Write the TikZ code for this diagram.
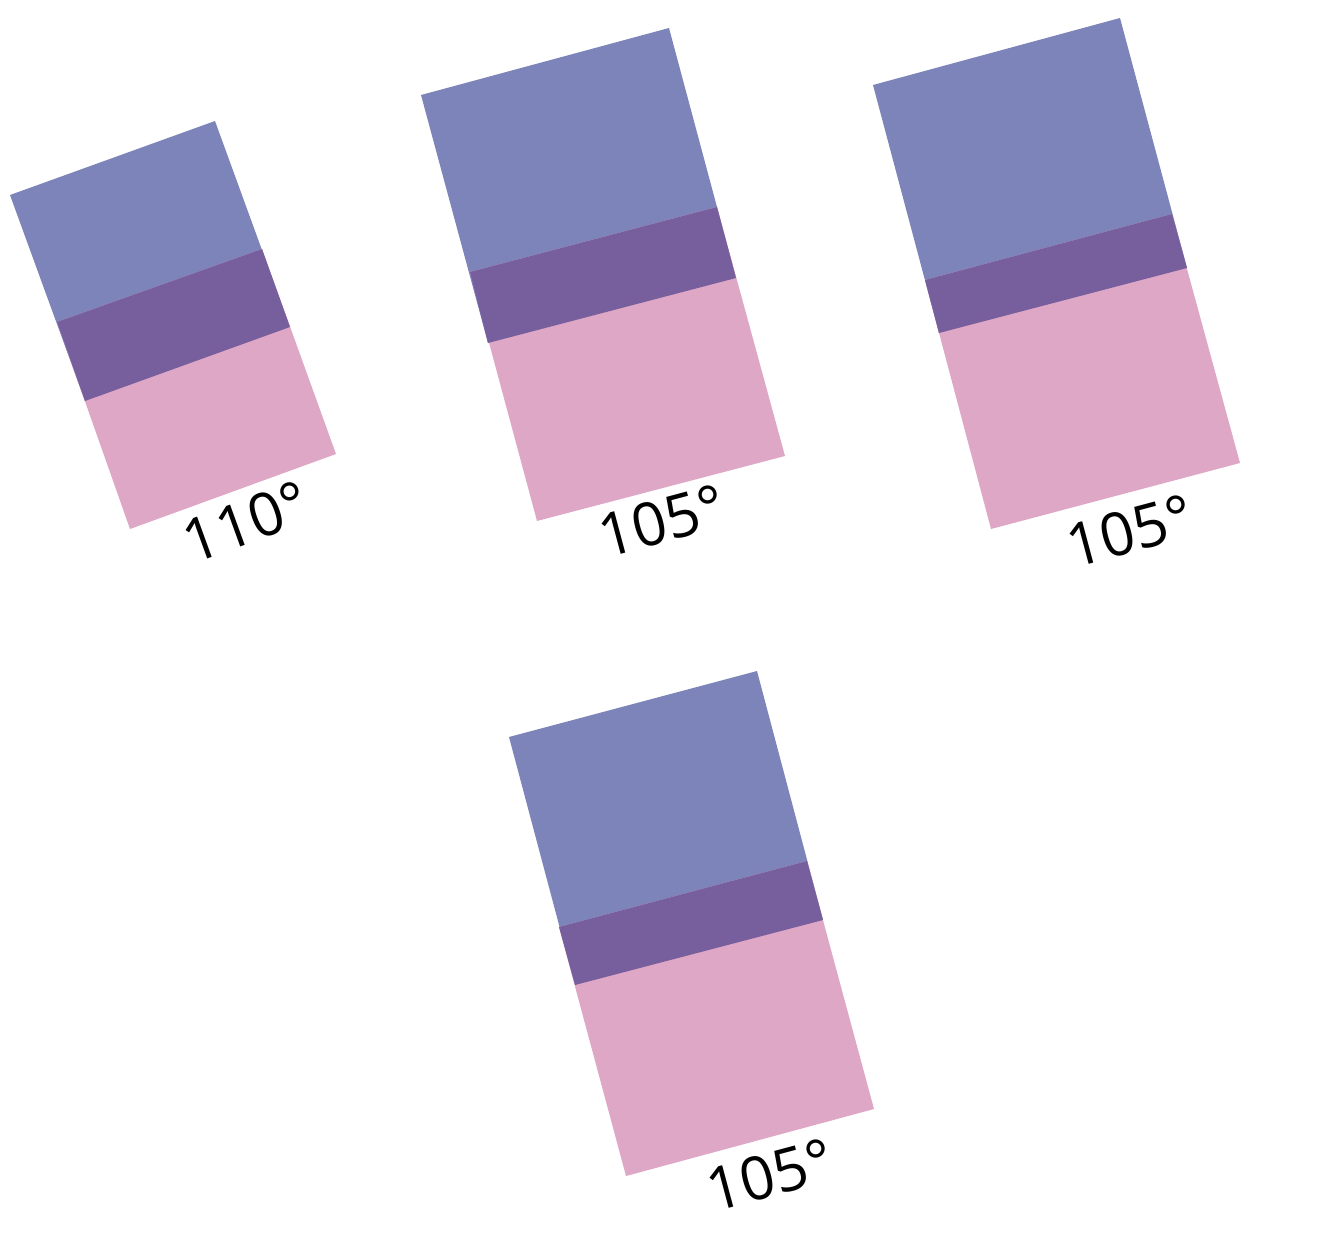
\documentclass[tikz,border=0pt]{standalone}
\usepackage{fontspec}
\setmainfont{Open Sans}
\definecolor{cblue}{RGB}{125,132,185}
\definecolor{cpink}{RGB}{222,167,198}
\definecolor{cpurple}{RGB}{119,94,156}
\tikzset{
  blueband/.style={fill=cblue},
  pinkband/.style={fill=cpink},
  overlap/.style={fill=cpurple},
  anglelabel/.style={font=\fontsize{60}{60}\selectfont, inner sep=0pt, text=black}
}
\begin{document}
\begin{tikzpicture}[x=1pt,y=-1pt]
\useasboundingbox (0,0) rectangle (1322,1234);
% shape 1
\fill[blueband] (10,195) -- (215,121) -- (290,327) -- (85,401) -- cycle;
\fill[pinkband] (57,322) -- (262,249) -- (336,454) -- (130,529) -- cycle;
\fill[overlap] (57,322) -- (262,249) -- (290,327) -- (85,401) -- cycle;
\node[anglelabel, rotate=20] (l1) at (246,522) {110°};
% shape 2
\fill[blueband] (421,95) -- (669,28) -- (736,278) -- (488,343) -- cycle;
\fill[pinkband] (470,272) -- (717,207) -- (785,456) -- (537,521) -- cycle;
\fill[overlap] (470,272) -- (717,207) -- (736,278) -- (488,343) -- cycle;
\node[anglelabel, rotate=15] (l2) at (662,521) {105°};
% shape 3
\fill[blueband] (873,85) -- (1120,18) -- (1187,268) -- (939,333) -- cycle;
\fill[pinkband] (925,280) -- (1172,214) -- (1240,463) -- (991,529) -- cycle;
\fill[overlap] (925,280) -- (1172,214) -- (1187,268) -- (939,333) -- cycle;
\node[anglelabel, rotate=15] (l3) at (1130,531) {105°};
% shape 4
\fill[blueband] (509,737) -- (757,671) -- (823,920) -- (575,985) -- cycle;
\fill[pinkband] (559,927) -- (807,861) -- (874,1109) -- (626,1176) -- cycle;
\fill[overlap] (559,927) -- (807,861) -- (823,920) -- (575,985) -- cycle;
\node[anglelabel, rotate=15] (l4) at (770,1175) {105°};
\end{tikzpicture}
\end{document}
